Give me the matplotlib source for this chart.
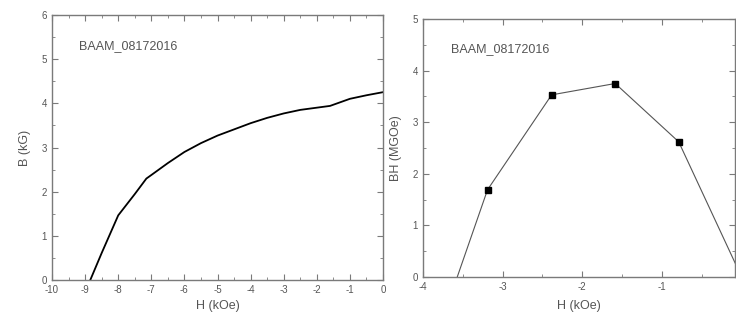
import numpy as np
import matplotlib.pyplot as plt
from matplotlib.ticker import MultipleLocator

# demagnetisation curve B(H)
H_curve = [-8.85, -8.5, -8.0, -7.5, -7.15, -7.0, -6.5, -6.0, -5.5, -5.0,
           -4.5, -4.0, -3.5, -3.0, -2.5, -2.0, -1.6, -1.0, -0.5, 0.0]
B_curve = [0.0, 0.62, 1.47, 1.95, 2.30, 2.38, 2.65, 2.90, 3.10, 3.27,
           3.41, 3.55, 3.67, 3.77, 3.85, 3.90, 3.94, 4.10, 4.18, 4.25]

# energy product BH(H)
H_bh = [-3.57, -3.19, -2.385, -1.587, -0.79, 0.0]
BH = [0.0, 1.69, 3.53, 3.75, 2.62, 0.0]
H_pts = [-3.19, -2.385, -1.587, -0.79]
BH_pts = [1.69, 3.53, 3.75, 2.62]

sample = 'BAAM_08172016'

plt.rcParams['font.family'] = ['Liberation Sans', 'DejaVu Sans']
plt.rcParams['axes.unicode_minus'] = False
txt = '#555555'
spine = '#7a7a7a'

fig = plt.figure(figsize=(7.36, 3.25), dpi=100)
ax1 = fig.add_axes([0.0707, 0.137, 0.4497, 0.818])
ax2 = fig.add_axes([0.5747, 0.1477, 0.4243, 0.7938])


def style(ax):
    for s in ax.spines.values():
        s.set_color(spine)
        s.set_linewidth(1.0)
    ax.tick_params(which='both', colors=spine, labelcolor=txt, labelsize=7,
                   top=True, right=True, direction='in')
    ax.tick_params(which='major', length=4)
    ax.tick_params(which='minor', length=2)
    ax.xaxis.set_major_locator(MultipleLocator(1))
    ax.xaxis.set_minor_locator(MultipleLocator(0.5))
    ax.yaxis.set_major_locator(MultipleLocator(1))
    ax.yaxis.set_minor_locator(MultipleLocator(0.5))


style(ax1)
ax1.plot(H_curve, B_curve, color='black', lw=1.3)
ax1.set_xlim(-10, 0)
ax1.set_ylim(0, 6)
ax1.set_xlabel('H (kOe)', fontsize=9, color=txt, labelpad=3)
ax1.set_ylabel('B (kG)', fontsize=9, color=txt, labelpad=8)
ax1.text(0.08, 0.87, sample, transform=ax1.transAxes, fontsize=9, color=txt)

style(ax2)
ax2.plot(H_bh, BH, color='#555555', lw=0.8)
ax2.plot(H_pts, BH_pts, 's', color='black', ms=5)
ax2.set_xlim(-4, -0.08)
ax2.set_ylim(0, 5)
ax2.set_xlabel('H (kOe)', fontsize=9, color=txt, labelpad=6)
ax2.set_ylabel('BH (MGOe)', fontsize=9, color=txt, labelpad=8)
ax2.text(0.09, 0.87, sample, transform=ax2.transAxes, fontsize=9, color=txt)

fig.savefig('out.png', dpi=100)
